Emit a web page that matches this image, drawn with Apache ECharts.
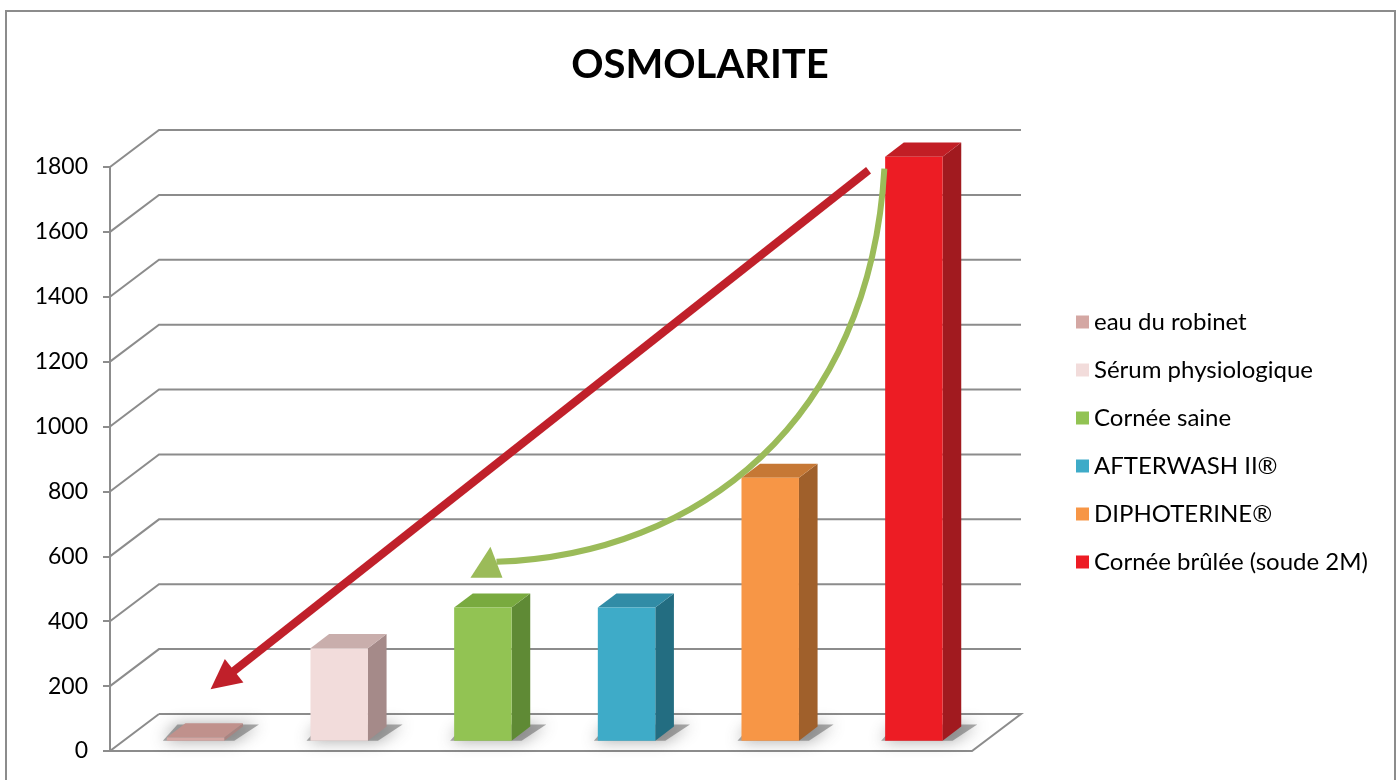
<!DOCTYPE html>
<html>
<head>
<meta charset="utf-8">
<script src="https://cdn.jsdelivr.net/npm/echarts@6/dist/echarts.min.js"></script>
<style>
  html, body { margin: 0; padding: 0; background: #fff; }
  #chart { width: 1400px; height: 780px; }
</style>
</head>
<body>
<div id="chart"></div>
<script>
// data
const categories = [
  "eau du robinet",
  "Sérum physiologique",
  "Cornée saine",
  "AFTERWASH II®",
  "DIPHOTERINE®",
  "Cornée brûlée (soude 2M)",
];
const values = [10, 285, 410, 410, 810, 1800];
const yTicks = [0, 200, 400, 600, 800, 1000, 1200, 1400, 1600, 1800];

// face colours per bar: front / top / side
const frontColors = ["#d4a7a3", "#f2dcdb", "#92c353", "#3eabc8", "#f79646", "#ed1c24"];
const topColors = ["#c0918c", "#c9aeac", "#79aa3f", "#318ca6", "#c67835", "#c21e25"];
const sideColors = ["#a98481", "#a58a89", "#5f8a35", "#236d81", "#a0602b", "#a11a1f"];

// annotation arrows, anchored in data space [category, value]
const redArrowFrom = [4.78, 1790];
const redArrowTo = [0.2, 190];
const greenArrowFrom = [4.89, 1795];
const greenCtrl1 = [4.79, 1020];
const greenCtrl2 = [3.6, 604];
const greenArrowTo = [2.19, 583];

// oblique depth of the floor and bars
const DEPTH_X = 49;
const DEPTH_Y = -37;
const BAR_FRONT = 0.28;
const BAR_DEPTH = 0.38;
const BAR_WIDTH = 0.4;

const chart = echarts.init(document.getElementById("chart"));

function renderWall(params, api) {
  const cs = params.coordSys;
  const y = api.coord([0, api.value(1)])[1];
  const left = cs.x;
  const right = cs.x + cs.width;
  const style = { stroke: "#8c8c8c", lineWidth: 2, fill: null };
  const pts =
    api.value(1) === 0
      ? [[left + DEPTH_X, y + DEPTH_Y], [left, y], [right, y], [right + DEPTH_X, y + DEPTH_Y], [left + DEPTH_X, y + DEPTH_Y]]
      : [[left, y], [left + DEPTH_X, y + DEPTH_Y], [right + DEPTH_X, y + DEPTH_Y]];
  return { type: "polyline", shape: { points: pts }, style: style, silent: true };
}

function renderBar(i) {
  return function (params, api) {
    const base = api.coord([api.value(0), 0]);
    const top = api.coord([api.value(0), api.value(1)]);
    const band = api.size([1, 0])[0];
    const w = band * BAR_WIDTH;
    const x0 = base[0] - w / 2 + DEPTH_X * BAR_FRONT;
    const yb = base[1] + DEPTH_Y * BAR_FRONT;
    const yt = top[1] + DEPTH_Y * BAR_FRONT;
    const dx = DEPTH_X * BAR_DEPTH;
    const dy = DEPTH_Y * BAR_DEPTH;
    return {
      type: "group",
      children: [
        {
          type: "polygon",
          shape: { points: [[x0 - 4, yb], [x0 + w + 10, yb], [x0 + w + dx + 16, yb + dy - 2], [x0 + dx - 8, yb + dy - 2]] },
          style: { fill: "rgba(100,100,100,0.55)", shadowBlur: 16, shadowColor: "rgba(70,70,70,0.9)" },
          silent: true,
        },
        {
          type: "polygon",
          shape: { points: [[x0 + w, yt], [x0 + w + dx, yt + dy], [x0 + w + dx, yb + dy], [x0 + w, yb]] },
          style: { fill: sideColors[i] },
        },
        {
          type: "polygon",
          shape: { points: [[x0, yt], [x0 + w, yt], [x0 + w + dx, yt + dy], [x0 + dx, yt + dy]] },
          style: { fill: topColors[i] },
        },
        {
          type: "rect",
          shape: { x: x0, y: yt, width: w, height: Math.max(yb - yt, 1.5) },
          style: { fill: frontColors[i] },
        },
      ],
    };
  };
}

const barSeries = categories.map((name, i) => ({
  type: "custom",
  name: name,
  itemStyle: { color: frontColors[i] },
  data: [[i, values[i]]],
  renderItem: renderBar(i),
  z: 3,
}));

const borderRect = {
  type: "rect",
  shape: { x: 6, y: 11, width: 1389, height: 800 },
  style: { fill: null, stroke: "#8c8c8c", lineWidth: 2 },
  silent: true,
  z: -1,
};

const option = {
  animation: false,
  backgroundColor: "#fff",
  title: {
    text: "OSMOLARITE",
    left: "center",
    top: 40,
    textStyle: { fontFamily: "Lato", fontSize: 40, fontWeight: "bold", color: "#000" },
  },
  legend: {
    data: categories,
    orient: "vertical",
    left: 1076,
    top: 308,
    icon: "rect",
    itemWidth: 13,
    itemHeight: 13,
    itemGap: 20,
    padding: 0,
    textStyle: { fontFamily: "Lato", fontSize: 24, lineHeight: 28, color: "#000" },
  },
  grid: { left: 110, right: 428, top: 167, bottom: 29 },
  xAxis: {
    type: "category",
    data: categories,
    show: false,
  },
  yAxis: {
    type: "value",
    min: 0,
    max: 1800,
    interval: 200,
    axisLine: { show: true, lineStyle: { color: "#8c8c8c", width: 2 } },
    axisTick: { show: true, length: 7, lineStyle: { color: "#8c8c8c", width: 2 } },
    splitLine: { show: false },
    axisLabel: {
      fontFamily: "Lato",
      fontSize: 23,
      color: "#000",
      margin: 22,
      formatter: (v) => String(v),
    },
  },
  graphic: [borderRect],
  series: [
    {
      type: "custom",
      name: "walls",
      data: yTicks.map((v) => [0, v]),
      renderItem: renderWall,
      silent: true,
      z: 1,
    },
  ].concat(barSeries),
};

chart.setOption(option);

// arrows are placed after layout so they follow the axes
function toPx(p) {
  const a = chart.convertToPixel({ gridIndex: 0 }, [0, p[1]]);
  const b = chart.convertToPixel({ gridIndex: 0 }, [1, p[1]]);
  const band = b[0] - a[0];
  return [a[0] + band * p[0], a[1]];
}

function drawArrows() {
  const rf = toPx(redArrowFrom);
  const rt = toPx(redArrowTo);
  const len = Math.hypot(rt[0] - rf[0], rt[1] - rf[1]);
  const ux = (rt[0] - rf[0]) / len;
  const uy = (rt[1] - rf[1]) / len;
  const headLen = 30;
  const headHalf = 15;
  const bx = rt[0] - ux * headLen;
  const by = rt[1] - uy * headLen;

  const gf = toPx(greenArrowFrom);
  const g1 = toPx(greenCtrl1);
  const g2 = toPx(greenCtrl2);
  const gt = toPx(greenArrowTo);

  chart.setOption({
    graphic: [
      borderRect,
      {
        type: "bezierCurve",
        shape: { x1: gf[0], y1: gf[1], cpx1: g1[0], cpy1: g1[1], cpx2: g2[0], cpy2: g2[1], x2: gt[0], y2: gt[1] },
        style: { stroke: "#9bbb59", lineWidth: 6, fill: null },
        z: 10,
      },
      {
        type: "polygon",
        shape: { points: [[gt[0] - 6, gt[1] - 15], [gt[0] + 6, gt[1] + 16], [gt[0] - 26, gt[1] + 16]] },
        style: { fill: "#9bbb59" },
        z: 10,
      },
      {
        type: "line",
        shape: { x1: rf[0], y1: rf[1], x2: bx + ux * 2, y2: by + uy * 2 },
        style: { stroke: "#c0202a", lineWidth: 8 },
        z: 11,
      },
      {
        type: "polygon",
        shape: { points: [rt, [bx - uy * headHalf, by + ux * headHalf], [bx + uy * headHalf, by - ux * headHalf]] },
        style: { fill: "#c0202a" },
        z: 11,
      },
    ],
  });
}

drawArrows();
</script>
</body>
</html>
